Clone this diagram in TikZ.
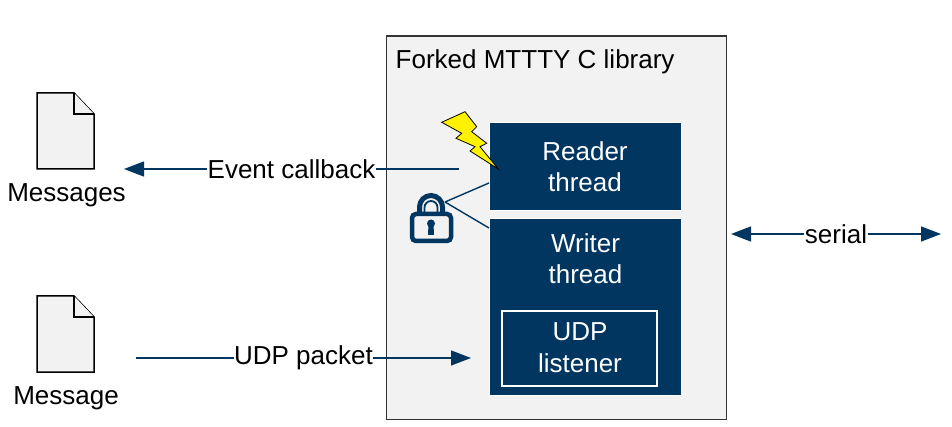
\documentclass[tikz,border=0pt]{standalone}
\usepackage{fontspec}
\setmainfont{Liberation Sans}
\usetikzlibrary{arrows.meta}
\definecolor{navy}{HTML}{003660}
\definecolor{panel}{HTML}{F2F2F2}
\tikzset{
  txt/.style={font=\fontsize{26}{31.5}\selectfont,align=center,inner sep=0pt},
  thread/.style={draw=white,line width=1pt,fill=navy,anchor=north west},
  whitetxt/.style={txt,text=white},
  conn/.style={draw=navy,line width=1.4pt},
  arrowhead/.style={-{Triangle[length=20pt,width=15pt]}},
  bothheads/.style={{Triangle[length=20pt,width=15pt]}-{Triangle[length=20pt,width=15pt]}},
  edgelabel/.style={txt,fill=white,inner xsep=0.5pt,inner ysep=2pt},
  docshape/.style={draw=black,line width=1.5pt,fill=panel,line join=miter},
}
\newcommand{\docicon}[2]{%
  \draw[docshape] (#1,#2) -- ++(37,0) -- ++(20,21) -- ++(0,55) -- ++(-57,0) -- cycle;
  \draw[docshape] (#1+37,#2) -- ++(0,21) -- ++(20,0);
}
\begin{document}
\begin{tikzpicture}[x=1pt,y=-1pt]
\useasboundingbox (0,0) rectangle (952,427);
% library panel
\node[draw=black!80,line width=1.5pt,fill=panel,minimum width=340pt,minimum height=383pt,anchor=north west,inner sep=0pt] (panel) at (385.5,35.5) {};
\node[txt,anchor=base west] (title) at (395.5,69) {Forked MTTTY C library};
% threads
\node[thread,minimum width=192pt,minimum height=88pt,inner sep=0pt] (reader) at (488.5,122.5) {};
\node[whitetxt] (readertxt) at (585,166.5) {Reader\\thread};
\node[thread,minimum width=192pt,minimum height=176pt,inner sep=0pt] (writer) at (488.5,218.5) {};
\node[whitetxt] (writertxt) at (585.5,258.5) {Writer\\thread};
\node[draw=white,line width=1.5pt,fill=navy,minimum width=155pt,minimum height=75pt,anchor=north west,inner sep=0pt] (udp) at (501,310) {};
\node[whitetxt] (udptxt) at (580,347.5) {UDP\\listener};
% bolt
\draw[draw=black,line width=.8pt,fill=yellow,line join=miter]
  (441.7,122.3) -- (465,111.7) -- (476.7,126.7) -- (471.7,131.7) -- (486.7,143.3) -- (480,146.7)
  -- (498.3,169) -- (470,151) -- (475,146.7) -- (456,138.3) -- (461.7,133.3) -- cycle;
% lock
\coordinate (lockpin) at (445,202);
\coordinate (readerpin) at (489,183);
\coordinate (writerpin) at (489,228);
\draw[conn] (lockpin) -- (readerpin);
\draw[conn] (lockpin) -- (writerpin);
\draw[navy,line width=5pt] (419.5,214) -- (419.5,207) arc[start angle=180,end angle=360,radius=11.5] -- (442.5,214);
\draw[navy,line width=1.8pt] (424.5,214) -- (424.5,207.5) arc[start angle=180,end angle=360,radius=6.5] -- (437.5,214);
\draw[navy,line width=4.5pt,fill=panel,rounded corners=4pt] (412,214) rectangle (451,241);
\fill[navy] (431,223.5) circle (4pt);
\fill[navy] (428.5,224) -- (433.5,224) -- (434,235) -- (428,235) -- cycle;
% documents
\docicon{37}{93}
\docicon{37}{296}
\node[txt] (msgs) at (66.5,195) {Messages};
\node[txt] (msg) at (66,398) {Message};
% connectors
\coordinate (cbstart) at (459,169);
\coordinate (cbend) at (124,169);
\coordinate (udpstart) at (136,358);
\coordinate (udpend) at (471,358);
\coordinate (serleft) at (731,234);
\coordinate (serright) at (941,234);
\draw[conn,arrowhead] (cbstart) -- node[edgelabel] (cblabel) {Event callback} (cbend);
\draw[conn,arrowhead] (udpstart) -- node[edgelabel] (udplabel) {UDP packet} (udpend);
\draw[conn,bothheads] (serleft) -- node[edgelabel] (serlabel) {serial} (serright);
\end{tikzpicture}
\end{document}
